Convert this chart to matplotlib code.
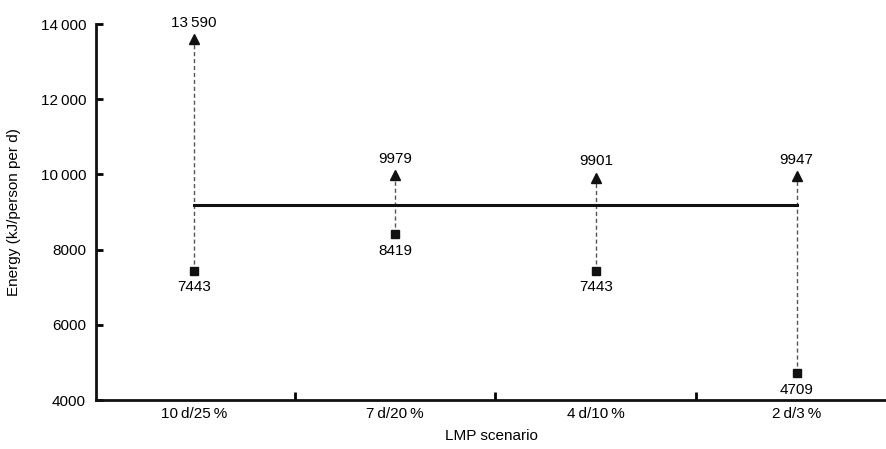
import matplotlib
matplotlib.use("Agg")
import matplotlib.pyplot as plt

plt.rcParams["font.family"] = ["Liberation Sans", "DejaVu Sans"]

# LMP scenarios and energy values (kJ/person per d)
scenarios = ["10\u2009d/25\u2009%", "7\u2009d/20\u2009%", "4\u2009d/10\u2009%", "2\u2009d/3\u2009%"]
upper = [13590, 9979, 9901, 9947]
lower = [7443, 8419, 7443, 4709]
reference = 9200


def fmt(v):
    s = f"{v:d}"
    if v >= 10000:
        s = s[:-3] + "\u2009" + s[-3:]
    return s


fig = plt.figure(figsize=(8.87, 4.49), dpi=100)
ax = fig.add_axes([0.108, 0.109, 0.892, 0.8375])

x = list(range(len(scenarios)))

# reference line across the scenarios
ax.plot([x[0], x[-1]], [reference, reference], color="#111111", lw=2.2, zorder=2)

for xi, hi, lo in zip(x, upper, lower):
    ax.plot([xi, xi], [lo, hi], color="#555555", lw=1.0, ls=(0, (3, 2)), zorder=1)
    ax.plot(xi, hi, marker="^", color="#111111", ms=7.5, zorder=3)
    ax.plot(xi, lo, marker="s", color="#111111", ms=5.5, zorder=3)
    ax.annotate(fmt(hi), (xi, hi), xytext=(0, 7), textcoords="offset points",
                ha="center", va="bottom", fontsize=11)
    ax.annotate(fmt(lo), (xi, lo), xytext=(0, -7), textcoords="offset points",
                ha="center", va="top", fontsize=11)

ax.set_xlim(-0.49, 3.45)
ax.set_ylim(4000, 14000)

yticks = [4000, 6000, 8000, 10000, 12000, 14000]
ax.set_yticks(yticks)
ax.set_yticklabels([fmt(v) for v in yticks])

ax.set_xticks(x)
ax.set_xticklabels(scenarios)
ax.tick_params(axis="x", which="major", length=0, pad=5, labelsize=11)
ax.set_xticks([0.5, 1.5, 2.5], minor=True)
ax.tick_params(axis="x", which="minor", direction="in", length=6, width=2)
ax.tick_params(axis="y", direction="in", length=5, width=2, labelsize=11, pad=7)

for side in ["top", "right"]:
    ax.spines[side].set_visible(False)
for side in ["left", "bottom"]:
    ax.spines[side].set_linewidth(2)
    ax.spines[side].set_color("#111111")

ax.set_xlabel("LMP scenario", fontsize=11, labelpad=6)
ax.set_ylabel("Energy (kJ/person per d)", fontsize=11, labelpad=14)

fig.savefig("out.png", dpi=100)
